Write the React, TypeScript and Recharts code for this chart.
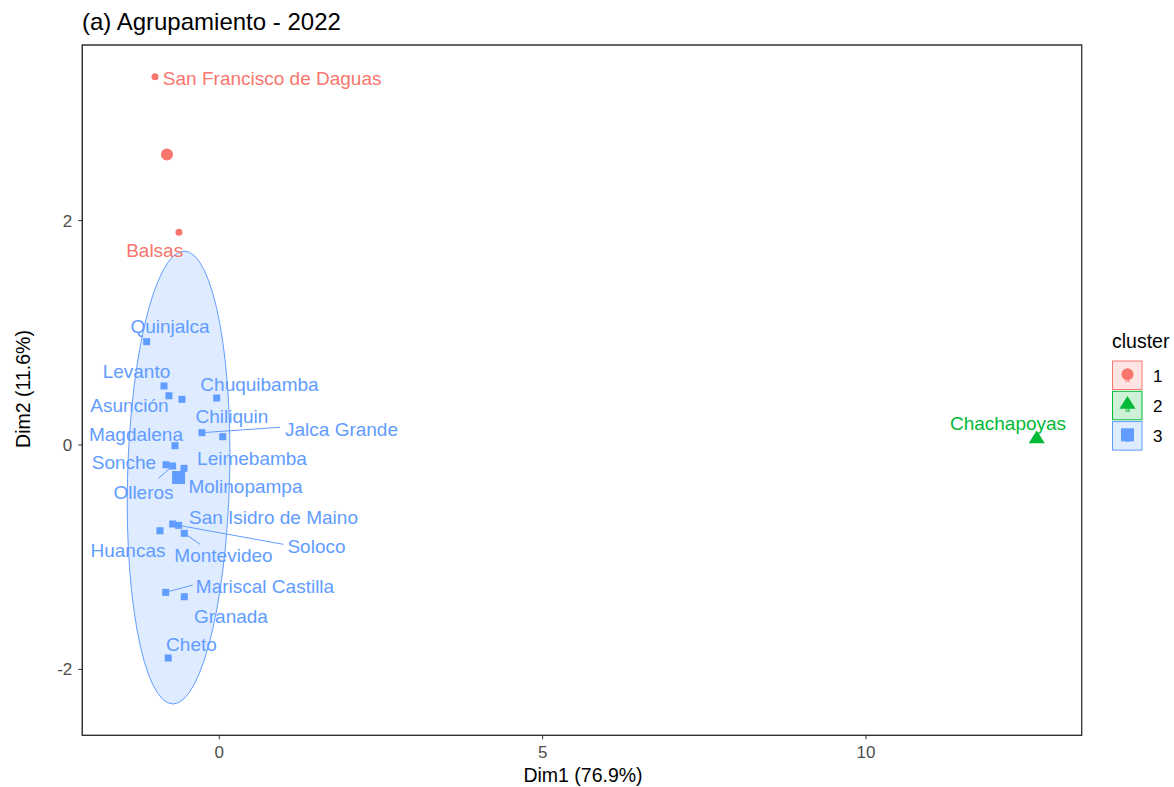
import React from 'react';
import { ScatterChart, Scatter, XAxis, YAxis, ReferenceLine, ReferenceArea } from 'recharts';

const FONT = "'Liberation Sans', Arial, Helvetica, sans-serif";
const CLUSTER_COLORS: Record<number, string> = { 1: '#F8766D', 2: '#00BA38', 3: '#619CFF' };

// districts, their cluster and their coordinates on the first two dimensions
const NAMES = [
  'San Francisco de Daguas', 'Balsas', 'Chachapoyas', 'Quinjalca', 'Levanto', 'Asunción',
  'Chiliquin', 'Chuquibamba', 'Jalca Grande', 'Leimebamba', 'Magdalena', 'Sonche', 'Olleros',
  'Molinopampa', 'San Isidro de Maino', 'Soloco', 'Huancas', 'Montevideo', 'Mariscal Castilla',
  'Granada', 'Cheto',
];
const CLUSTER = [1, 1, 2, 3, 3, 3, 3, 3, 3, 3, 3, 3, 3, 3, 3, 3, 3, 3, 3, 3, 3];
const DIM1 = [
  -0.994, -0.623, 12.64, -1.123, -0.855, -0.778, -0.577, -0.04, -0.268, 0.053, -0.685, -0.824,
  -0.721, -0.546, -0.721, -0.628, -0.917, -0.541, -0.829, -0.541, -0.789,
];
const DIM2 = [
  3.283, 1.896, 0.053, 0.921, 0.526, 0.439, 0.407, 0.419, 0.11, 0.074, -0.006, -0.176, -0.187,
  -0.208, -0.704, -0.716, -0.764, -0.787, -1.313, -1.352, -1.898,
];

// where the repelled label text sits (centre of the text)
const LABEL_DIM1 = [
  0.818, -0.999, 12.196, -0.762, -1.28, -1.389, 0.196, 0.622, 1.89, 0.506, -1.288, -1.474,
  -1.172, 0.405, 0.838, 1.503, -1.412, 0.065, 0.707, 0.181, -0.43,
];
const LABEL_DIM2 = [
  3.268, 1.732, 0.19, 1.052, 0.651, 0.348, 0.25, 0.535, 0.134, -0.116, 0.098, -0.16, -0.419,
  -0.374, -0.642, -0.9, -0.936, -0.989, -1.257, -1.524, -1.774,
];

// labels that got a connector segment, and where the segment ends
const SEGMENT_NAMES = ['Jalca Grande', 'Olleros', 'Soloco', 'Montevideo', 'Mariscal Castilla'];
const SEGMENT_END_DIM1 = [0.94, -0.943, 0.99, -0.298, -0.411];
const SEGMENT_END_DIM2 = [0.158, -0.297, -0.885, -0.885, -1.248];

const X_TICKS = [0, 5, 10];
const Y_TICKS = [-2, 0, 2];
const X_DOMAIN = [-2.118, 13.335];
const Y_DOMAIN = [-2.587, 3.565];

const CLUSTER_IDS = [1, 2, 3];

// F(0.95; 2, n-1) for the normal ellipse of stat_ellipse
const F_QUANTILE: Record<number, number> = { 18: 3.5915 };

const rows = NAMES.map((name, i) => ({
  name,
  cluster: CLUSTER[i],
  x: DIM1[i],
  y: DIM2[i],
  lx: LABEL_DIM1[i],
  ly: LABEL_DIM2[i],
}));

const centers = CLUSTER_IDS.map((c) => {
  const pts = rows.filter((r) => r.cluster === c);
  return {
    cluster: c,
    x: pts.reduce((s, p) => s + p.x, 0) / pts.length,
    y: pts.reduce((s, p) => s + p.y, 0) / pts.length,
  };
});

function normalEllipse(cluster: number, segments = 60) {
  const pts = rows.filter((r) => r.cluster === cluster);
  const n = pts.length;
  const mx = pts.reduce((s, p) => s + p.x, 0) / n;
  const my = pts.reduce((s, p) => s + p.y, 0) / n;
  let a = 0, b = 0, c = 0;
  pts.forEach((p) => {
    a += (p.x - mx) ** 2;
    b += (p.x - mx) * (p.y - my);
    c += (p.y - my) ** 2;
  });
  a /= n - 1; b /= n - 1; c /= n - 1;
  const r11 = Math.sqrt(a);
  const r12 = b / r11;
  const r22 = Math.sqrt(c - r12 * r12);
  const radius = Math.sqrt(2 * F_QUANTILE[n]);
  const out: { x: number; y: number }[] = [];
  for (let k = 0; k <= segments; k++) {
    const t = (k * 2 * Math.PI) / segments;
    out.push({
      x: mx + radius * Math.cos(t) * r11,
      y: my + radius * (Math.cos(t) * r12 + Math.sin(t) * r22),
    });
  }
  return out;
}

const ellipse3 = normalEllipse(3);

function EllipsePath(props: any) {
  const pts = props.points || [];
  if (!pts.length) return null;
  const d = pts.map((p: any, i: number) => `${i ? 'L' : 'M'}${p.x},${p.y}`).join(' ') + ' Z';
  return <path d={d} fill={CLUSTER_COLORS[3]} fillOpacity={0.2} stroke={CLUSTER_COLORS[3]} strokeWidth={1} />;
}

function Marker({ cx, cy, cluster, big }: { cx: number; cy: number; cluster: number; big?: boolean }) {
  const col = CLUSTER_COLORS[cluster];
  if (cluster === 1) return <circle cx={cx} cy={cy} r={big ? 6 : 3.5} fill={col} />;
  if (cluster === 2) {
    const r = big ? 8.5 : 5.5;
    const w = r * 0.95;
    return <path d={`M${cx},${cy - r} L${cx + w},${cy + r * 0.5} L${cx - w},${cy + r * 0.5} Z`} fill={col} />;
  }
  const s = big ? 13 : 7;
  return <rect x={cx - s / 2} y={cy - s / 2} width={s} height={s} fill={col} />;
}

function LegendKey({ y, cluster }: { y: number; cluster: number }) {
  const col = CLUSTER_COLORS[cluster];
  const cx = 1127.5;
  const cy = y + 14.2;
  return (
    <g>
      <rect x={1112.5} y={y} width={29.5} height={28.5} fill={col} fillOpacity={0.2} stroke={col} strokeWidth={1} />
      <text x={cx} y={cy + 3.5} fontSize={9} fill={col} textAnchor="middle" dominantBaseline="central">a</text>
      <Marker cx={cx} cy={cy - 1} cluster={cluster} big />
      <text x={1153} y={cy + 6.5} fontSize={17} fill="#000">{cluster}</text>
    </g>
  );
}

export default function App() {
  return (
    <div style={{ position: 'absolute', left: 0, top: 0, width: 1174, height: 787, background: '#fff', fontFamily: FONT }}>
      <ScatterChart width={1174} height={787} margin={{ top: 45, right: 92.3, bottom: 21.7, left: 42.3 }}>
        <XAxis
          type="number"
          dataKey="x"
          domain={X_DOMAIN}
          ticks={X_TICKS}
          allowDataOverflow
          height={30}
          tickSize={4}
          tickMargin={7}
          stroke="#333333"
          tick={{ fontSize: 17, fill: '#4D4D4D', fontFamily: FONT }}
        />
        <YAxis
          type="number"
          dataKey="y"
          domain={Y_DOMAIN}
          ticks={Y_TICKS}
          allowDataOverflow
          width={40}
          tickSize={4}
          tickMargin={6}
          stroke="#333333"
          tick={{ fontSize: 17, fill: '#4D4D4D', fontFamily: FONT }}
        />
        <Scatter data={ellipse3} shape={() => <g />} line={<EllipsePath />} isAnimationActive={false} />
        {SEGMENT_NAMES.map((name, i) => {
          const row = rows.find((r) => r.name === name)!;
          return (
            <ReferenceLine
              key={name}
              segment={[{ x: row.x, y: row.y }, { x: SEGMENT_END_DIM1[i], y: SEGMENT_END_DIM2[i] }]}
              stroke={CLUSTER_COLORS[row.cluster]}
              strokeWidth={1}
              ifOverflow="visible"
            />
          );
        })}
        {CLUSTER_IDS.map((c) => (
          <Scatter
            key={`pts-${c}`}
            data={rows.filter((r) => r.cluster === c)}
            isAnimationActive={false}
            shape={(p: any) => <Marker cx={p.cx} cy={p.cy} cluster={c} />}
          />
        ))}
        <Scatter
          data={centers}
          isAnimationActive={false}
          shape={(p: any) => <Marker cx={p.cx} cy={p.cy} cluster={p.payload.cluster} big />}
        />
        <Scatter
          data={rows.map((r) => ({ name: r.name, cluster: r.cluster, x: r.lx, y: r.ly }))}
          isAnimationActive={false}
          shape={(p: any) => (
            <text
              x={p.cx}
              y={p.cy}
              textAnchor="middle"
              dominantBaseline="central"
              fontSize={19}
              fontFamily={FONT}
              fill={CLUSTER_COLORS[p.payload.cluster]}
            >
              {p.payload.name}
            </text>
          )}
        />
        <ReferenceArea
          x1={X_DOMAIN[0]}
          x2={X_DOMAIN[1]}
          y1={Y_DOMAIN[0]}
          y2={Y_DOMAIN[1]}
          fill="none"
          stroke="#333333"
          strokeWidth={1.3}
          ifOverflow="visible"
        />
      </ScatterChart>
      <svg width={1174} height={787} style={{ position: 'absolute', left: 0, top: 0, pointerEvents: 'none' }} fontFamily={FONT}>
        <text x={82} y={30} fontSize={24} fill="#000">(a) Agrupamiento - 2022</text>
        <text x={583} y={781.5} fontSize={19.5} textAnchor="middle" fill="#000">Dim1 (76.9%)</text>
        <text transform="translate(29.5,389) rotate(-90)" fontSize={19.5} textAnchor="middle" fill="#000">
          Dim2 (11.6%)
        </text>
        <text x={1112} y={348} fontSize={19.5} fill="#000">cluster</text>
        {CLUSTER_IDS.map((c, i) => (
          <LegendKey key={c} cluster={c} y={361 + i * 30.3} />
        ))}
      </svg>
    </div>
  );
}
